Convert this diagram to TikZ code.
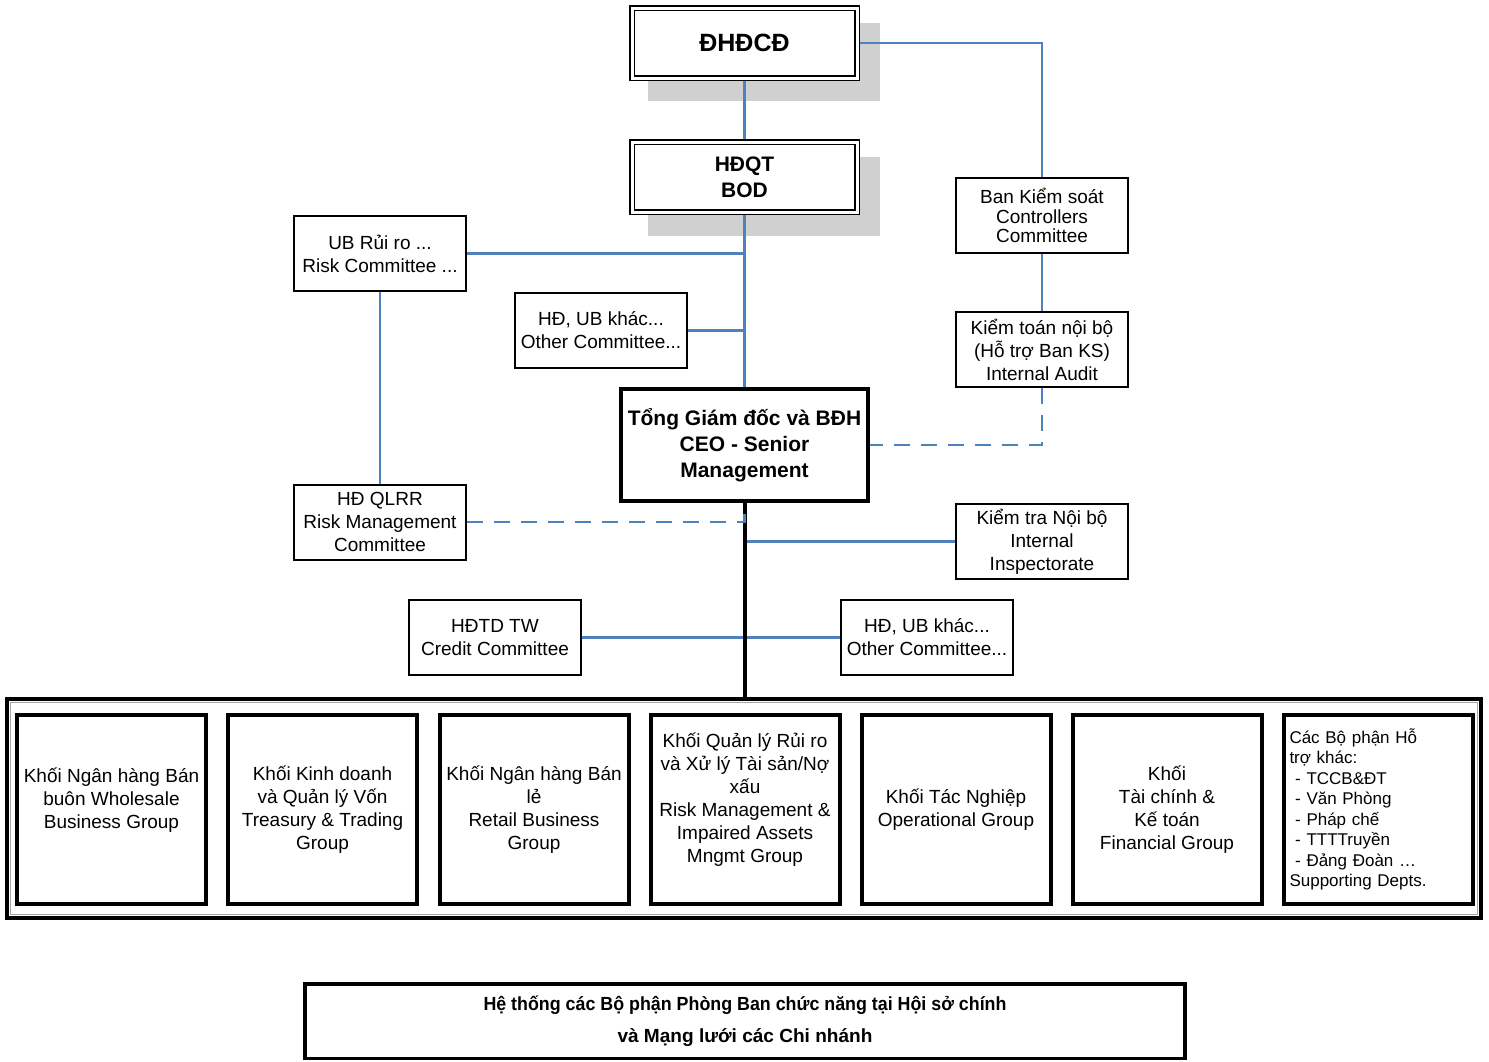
\documentclass[tikz,border=0pt]{standalone}
\usepackage{fontspec}
\usepackage{graphicx}
\setmainfont{Liberation Sans}
\usetikzlibrary{backgrounds}
\definecolor{lnblue}{RGB}{79,129,189}
\definecolor{shadowgray}{RGB}{208,208,208}
\newcommand\fsn{\fontsize{19}{23}\selectfont}
\newcommand\fsb{\fontsize{21}{26}\selectfont\bfseries}
\begin{document}
\begin{tikzpicture}[x=1pt,y=-1pt,
  thinbox/.style={draw, line width=2pt, fill=white, inner sep=0pt, minimum width=172pt, minimum height=75pt, align=center, font=\fsn},
  dblbox/.style={draw, double, double distance=3pt, line width=1.3pt, fill=white, inner sep=0pt, minimum width=225pt, minimum height=70pt, align=center},
  ceobox/.style={draw, line width=4pt, fill=white, inner sep=0pt, minimum width=247pt, minimum height=112pt, align=center, font=\fsb},
  grpbox/.style={draw, line width=4pt, fill=white, inner sep=0pt, minimum width=189pt, minimum height=189pt, align=center, font=\fsn},
  conn/.style={draw=lnblue, line width=2.3pt},
  dconn/.style={conn, dash pattern=on 16pt off 11pt},
  trunk/.style={draw=black, line width=4pt}]
\useasboundingbox (0,0) rectangle (1489,1061);

% top boxes
\node[dblbox, font=\fontsize{25}{30}\selectfont\bfseries] (dh) at (744.5,43) {ĐHĐCĐ};
\node[dblbox, font=\fsb] (hd) at (744.5,177) {HĐQT\\BOD};

% committees
\node[thinbox] (ubrr) at (380,253.5) {UB Rủi ro ...\\Risk Committee ...};
\node[thinbox] (hdk1) at (601,330.5) {HĐ, UB khác...\\Other Committee...};
\node[thinbox, font=\fontsize{19}{19.5}\selectfont] (bks) at (1042,215.5) {Ban Kiểm soát\\Controllers\\Committee};
\node[thinbox] (ktnb) at (1042,349.5) {Kiểm toán nội bộ\\(Hỗ trợ Ban KS)\\Internal Audit};
\node[ceobox] (ceo) at (744.5,445) {Tổng Giám đốc và BĐH\\CEO - Senior\\Management};
\node[thinbox] (qlrr) at (380,522) {HĐ QLRR\\Risk Management\\Committee};
\node[thinbox] (ktra) at (1042,541.5) {Kiểm tra Nội bộ\\Internal\\Inspectorate};
\node[thinbox] (hdtd) at (495,637.5) {HĐTD TW\\Credit Committee};
\node[thinbox] (hdk2) at (927,637.5) {HĐ, UB khác...\\Other Committee...};

% container
\node[draw, line width=4pt, inner sep=0pt, minimum width=1474pt, minimum height=219pt] (cont) at (744,808.5) {};
\draw[gray!70, line width=1pt] (10.5,702.5) rectangle (1477.5,914.5);

\node[grpbox] (g1) at (111.5,809.5) {Khối Ngân hàng Bán\\buôn Wholesale\\Business Group\\\mbox{}};
\node[grpbox] (g2) at (322.5,809.5) {Khối Kinh doanh\\và Quản lý Vốn\\Treasury \& Trading\\Group};
\node[grpbox] (g3) at (534,809.5) {Khối Ngân hàng Bán\\lẻ\\Retail Business\\Group};
\node[grpbox] (g4) at (745,809.5) {Khối Quản lý Rủi ro\\và Xử lý Tài sản/Nợ\\xấu\\Risk Management \&\\Impaired Assets\\Mngmt Group\\\mbox{}};
\node[grpbox] (g5) at (956,809.5) {Khối Tác Nghiệp\\Operational Group};
\node[grpbox] (g6) at (1167,809.5) {Khối\\Tài chính \&\\Kế toán\\Financial Group};
\node[grpbox, align=left, text width=177pt, font=\fontsize{17}{20.5}\selectfont] (g7) at (1378,809.5) {Các Bộ phận Hỗ\\trợ khác:\\\ - TCCB\&ĐT\\\ - Văn Phòng\\\ - Pháp chế\\\ - TTTTruyền\\\ - Đảng Đoàn …\\Supporting Depts.};

% bottom box
\node[draw, line width=3.5pt, fill=white, inner sep=0pt, minimum width=880pt, minimum height=74.5pt, align=center, font=\fontsize{19}{32}\selectfont\bfseries] (bot) at (745,1021.25)
  {\resizebox{523pt}{\height}{Hệ thống các Bộ phận Phòng Ban chức năng tại Hội sở chính}\\\resizebox{255pt}{\height}{và Mạng lưới các Chi nhánh}};

\begin{scope}[on background layer]
  \fill[shadowgray] (648,23) rectangle (880,101);
  \fill[shadowgray] (648,157) rectangle (880,236);
  \draw[conn] (dh.south) -- (hd.north);
  \draw[conn] (dh.east) -| (bks.north);
  \draw[conn] (bks.south) -- (ktnb.north);
  \draw[conn] (hd.south) -- (ceo.north);
  \draw[conn] (ubrr.east) -- (ubrr.east -| hd.south);
  \draw[conn] (hdk1.east) -- (hdk1.east -| hd.south);
  \draw[conn] (ubrr.south) -- (qlrr.north);
  \draw[conn] (ceo.south |- ktra.west) -- (ktra.west);
  \draw[conn] (hdtd.east) -- (hdk2.west);
  \draw[trunk] (ceo.south) -- (ceo.south |- cont.north);
  \draw[dconn] (ktnb.south) |- (ceo.east);
  \draw[dconn] (qlrr.east) -| (ceo.south);
\end{scope}
\end{tikzpicture}
\end{document}
